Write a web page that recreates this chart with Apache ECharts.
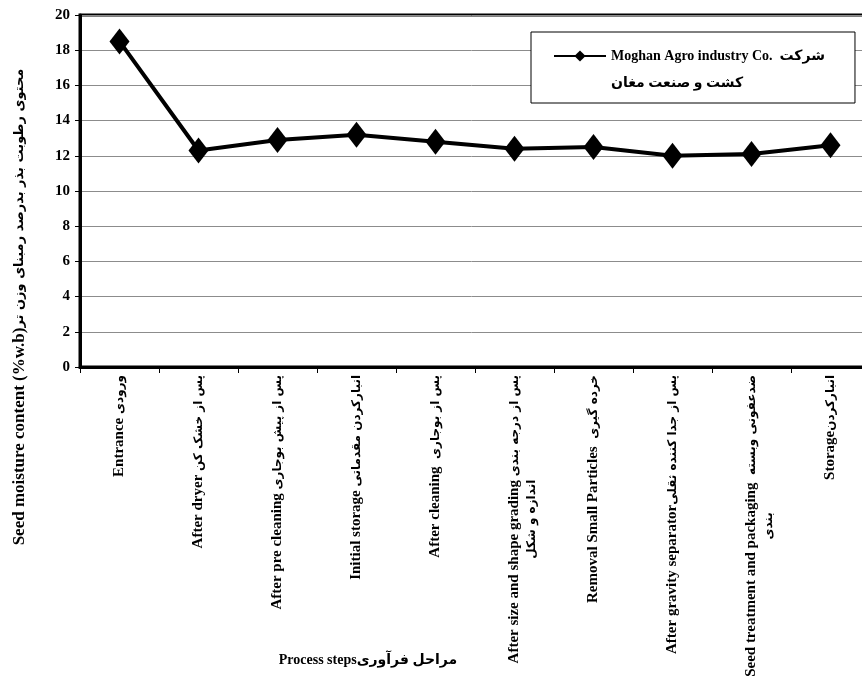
<!DOCTYPE html>
<html>
<head>
<meta charset="utf-8">
<script src="https://cdn.jsdelivr.net/npm/echarts@6/dist/echarts.min.js"></script>
<style>
html,body{margin:0;padding:0;background:#fff;}
#chart{width:862px;height:678px;}
</style>
</head>
<body>
<div id="chart"></div>
<script>
// ---- data ----
const categories = [
  'Entrance ورودی',
  'After dryer پس از خشک کن',
  'After pre cleaning پس از پیش بوجاری',
  'Initial storage انبارکردن مقدماتی',
  'After cleaning  پس از بوجاری',
  'After size and shape grading پس از درجه بندی\nاندازه و شکل',
  'Removal Small Particles  خرده گیری',
  'After gravity separatorپس از جدا کننده ثقلی',
  'Seed treatment and packaging  ضدعفونی وبسته\nبندی',
  'Storageانبارکردن'
];
const moisture = [18.5, 12.3, 12.9, 13.2, 12.8, 12.4, 12.5, 12.0, 12.1, 12.6];
const seriesName = 'Moghan Agro industry Co.  شرکت\nکشت و صنعت مغان';
const yTitle = 'Seed moisture content (%w.b)محتوی رطوبت بذر بدرصد رمبنای وزن تر';
const xTitle = 'Process stepsمراحل فرآوری';
const yMin = 0, yMax = 20, yStep = 2;

const FONT = "'Liberation Serif', 'DejaVu Sans', serif";
const FA_FONT = "'DejaVu Sans', sans-serif";

// split a line into latin / persian rich tokens
function toRich(line) {
  const re = /[\u0600-\u06FF\u200c]+(?:\s+[\u0600-\u06FF\u200c]+)*/g;
  let out = '', last = 0, m;
  while ((m = re.exec(line)) !== null) {
    if (m.index > last) out += '{en|' + line.slice(last, m.index) + '}';
    out += '{fa|' + m[0] + '}';
    last = m.index + m[0].length;
  }
  if (last < line.length) out += '{en|' + line.slice(last) + '}';
  return out;
}

const chart = echarts.init(document.getElementById('chart'), null, {renderer: 'canvas'});
chart.setOption({
  backgroundColor: '#fff',
  animation: false,
  grid: {
    left: 80, right: -8, top: 15, bottom: 311,
    outerBoundsMode: 'none',
    containLabel: false,
    show: true, borderColor: '#000', borderWidth: 3, backgroundColor: 'transparent'
  },
  legend: {
    data: [seriesName],
    left: 531, top: 32,
    padding: [17, 30, 13, 22],
    backgroundColor: '#fff',
    borderColor: '#000',
    borderWidth: 1,
    itemWidth: 52,
    itemHeight: 14,
    formatter: function (name) {
      return name.split('\n').map(function (s) { return '{a|' + s + '}'; }).join('\n');
    },
    textStyle: {
      padding: [27, 0, 0, 0],
      rich: {
        a: {fontFamily: FONT, fontWeight: 'bold', fontSize: 14, lineHeight: 27, color: '#000'}
      }
    }
  },
  xAxis: {
    type: 'category',
    data: categories,
    boundaryGap: true,
    axisLine: {lineStyle: {color: '#000', width: 3}},
    axisTick: {show: true, length: 6, lineStyle: {color: '#000', width: 1}},
    axisLabel: {
      interval: 0,
      rotate: 90,
      margin: 8,
      color: '#000',
      fontFamily: FONT,
      fontWeight: 'bold',
      fontSize: 15,
      lineHeight: 17,
      formatter: function (v) {
        const lines = v.split('\n');
        const s = lines.map(toRich).join('\n');
        return lines.length > 1 ? '{en|}\n' + s : s;
      },
      rich: {
        en: {align: 'center', fontFamily: FONT, fontWeight: 'bold', fontSize: 15, lineHeight: 17, color: '#000'},
        fa: {align: 'center', fontFamily: FA_FONT, fontWeight: 'bold', fontSize: 12, lineHeight: 17, color: '#000'}
      }
    },
    name: xTitle,
    nameLocation: 'middle',
    nameGap: 286,
    nameMoveOverlap: false,
    nameTextStyle: {
      fontFamily: FONT, fontWeight: 'bold', fontSize: 14, color: '#000',
      padding: [0, 214, 0, 0]
    }
  },
  yAxis: {
    type: 'value',
    min: yMin, max: yMax, interval: yStep,
    axisLine: {show: true, lineStyle: {color: '#000', width: 3}},
    axisTick: {show: true, length: 5, lineStyle: {color: '#000', width: 1}},
    splitLine: {show: true, lineStyle: {color: '#8c8c8c', width: 1}},
    axisLabel: {color: '#000', fontFamily: FONT, fontWeight: 'bold', fontSize: 15, margin: 10},
    name: toRich(yTitle),
    nameLocation: 'middle',
    nameRotate: 90,
    nameGap: 52,
    nameMoveOverlap: false,
    nameTextStyle: {
      fontFamily: FONT, fontWeight: 'bold', fontSize: 14, color: '#000',
      padding: [0, 232, 0, 0],
      rich: {
        en: {fontFamily: FONT, fontWeight: 'bold', fontSize: 17, color: '#000'},
        fa: {fontFamily: FA_FONT, fontWeight: 'bold', fontSize: 13, color: '#000'}
      }
    }
  },
  series: [{
    name: seriesName,
    type: 'line',
    data: moisture,
    symbol: 'diamond',
    symbolSize: [20, 26],
    lineStyle: {color: '#000', width: 4},
    itemStyle: {color: '#000'}
  }]
});
</script>
</body>
</html>
